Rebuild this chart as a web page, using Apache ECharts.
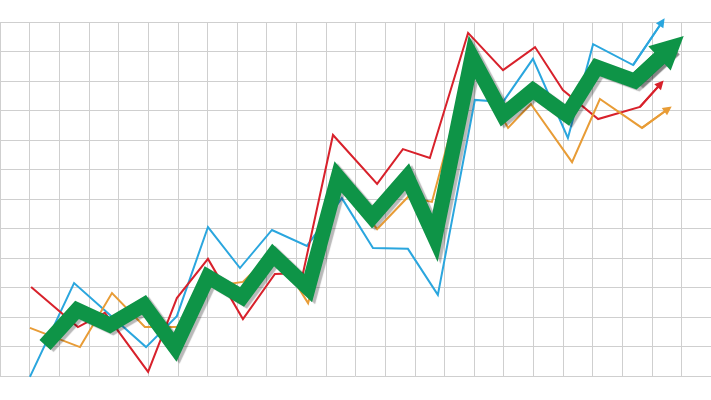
<!DOCTYPE html>
<html>
<head>
<meta charset="utf-8">
<style>
html,body{margin:0;padding:0;background:#fff;}
#chart{width:711px;height:400px;}
</style>
<script src="https://cdn.jsdelivr.net/npm/echarts@6/dist/echarts.min.js"></script>
</head>
<body>
<div id="chart"></div>
<script>
// Values in grid units: [x, y]
var redPoints = [[1.05,3.02],[2.63,1.66],[3.54,2.14],[5.0,0.14],[5.97,2.64],[7.02,3.97],[8.2,1.93],[9.28,3.46],[10.23,3.49],[11.24,8.17],[12.73,6.51],[13.6,7.69],[14.51,7.39],[15.8,11.63],[16.98,10.37],[18.06,11.15],[19.0,9.69],[20.19,8.71],[21.6,9.12],[22.3,9.9]];
var bluePoints = [[1.01,-0.03],[2.5,3.15],[4.93,0.98],[5.97,2.03],[7.02,5.05],[8.1,3.66],[9.18,4.95],[10.36,4.41],[11.54,6.03],[12.59,4.34],[13.77,4.31],[14.78,2.75],[16.03,9.36],[16.98,9.29],[17.99,10.75],[19.17,8.07],[20.02,11.25],[21.37,10.54],[22.35,12.0]];
var orangePoints = [[1.01,1.63],[2.7,0.98],[3.78,2.81],[4.89,1.66],[5.97,1.66],[7.02,3.02],[8.2,3.19],[9.28,4.27],[10.4,2.47],[11.48,6.64],[12.73,4.98],[13.77,6.07],[14.58,5.9],[15.86,10.71],[17.15,8.41],[17.92,9.22],[19.31,7.25],[20.25,9.39],[21.67,8.41],[22.55,9.05]];
var greenPoints = [[1.52,1.05],[2.6,2.24],[3.71,1.73],[4.86,2.41],[5.91,0.98],[7.02,3.36],[8.17,2.68],[9.22,4.1],[10.4,2.98],[11.41,6.75],[12.56,5.39],[13.74,6.75],[14.68,4.68],[15.93,10.81],[16.98,8.85],[17.99,9.69],[19.14,8.85],[20.15,10.47],[21.43,10.0],[22.67,11.15]];

var colors = {red:'#d8212b', blue:'#2aa6de', orange:'#e89c36', green:'#0e9447'};

function thinLine(pts, color){
  return {
    type:'line', data:pts, showSymbol:false, symbol:'none', clip:false, silent:true,
    lineStyle:{color:color, width:2, join:'miter'}, z:2, animation:false
  };
}
function arrowSeg(pts, color, width, size, z, shadow){
  var a = pts[pts.length-2], b = pts[pts.length-1];
  var ls = {color:color, width:width, opacity:1, curveness:0};
  if (shadow){ ls.shadowColor='rgba(0,0,0,0.28)'; ls.shadowBlur=1; ls.shadowOffsetX=3; ls.shadowOffsetY=2; }
  return {
    type:'lines', coordinateSystem:'cartesian2d', silent:true, animation:false, clip:false,
    symbol:['none','triangle'], symbolSize:size, z:z,
    lineStyle:ls, data:[{coords:[a,b]}]
  };
}

var chart = echarts.init(document.getElementById('chart'), null, {renderer:'canvas'});
chart.setOption({
  animation:false,
  backgroundColor:'#ffffff',
  grid:{left:0, right:0, top:22, bottom:24, containLabel:false},
  xAxis:{type:'value', min:0, max:24, interval:1,
    axisLine:{show:false}, axisTick:{show:false}, axisLabel:{show:false},
    splitLine:{show:true, lineStyle:{color:'#cfcfcf', width:1}}},
  yAxis:{type:'value', min:0, max:12, interval:1,
    axisLine:{show:false}, axisTick:{show:false}, axisLabel:{show:false},
    splitLine:{show:true, lineStyle:{color:'#cfcfcf', width:1}}},
  series:[
    thinLine(bluePoints, colors.blue),
    arrowSeg(bluePoints, colors.blue, 2, 9, 2, false),
    thinLine(redPoints, colors.red),
    arrowSeg(redPoints, colors.red, 2, 9, 2, false),
    thinLine(orangePoints, colors.orange),
    arrowSeg(orangePoints, colors.orange, 2, 9, 2, false),
    {
      type:'line', data:greenPoints, showSymbol:false, symbol:'none', clip:false, silent:true, z:5,
      lineStyle:{color:colors.green, width:15, join:'miter', cap:'butt', miterLimit:10,
        shadowColor:'rgba(0,0,0,0.28)', shadowBlur:1, shadowOffsetX:3, shadowOffsetY:2}
    },
    arrowSeg(greenPoints, colors.green, 15, 33, 6, true)
  ]
});
</script>
</body>
</html>
